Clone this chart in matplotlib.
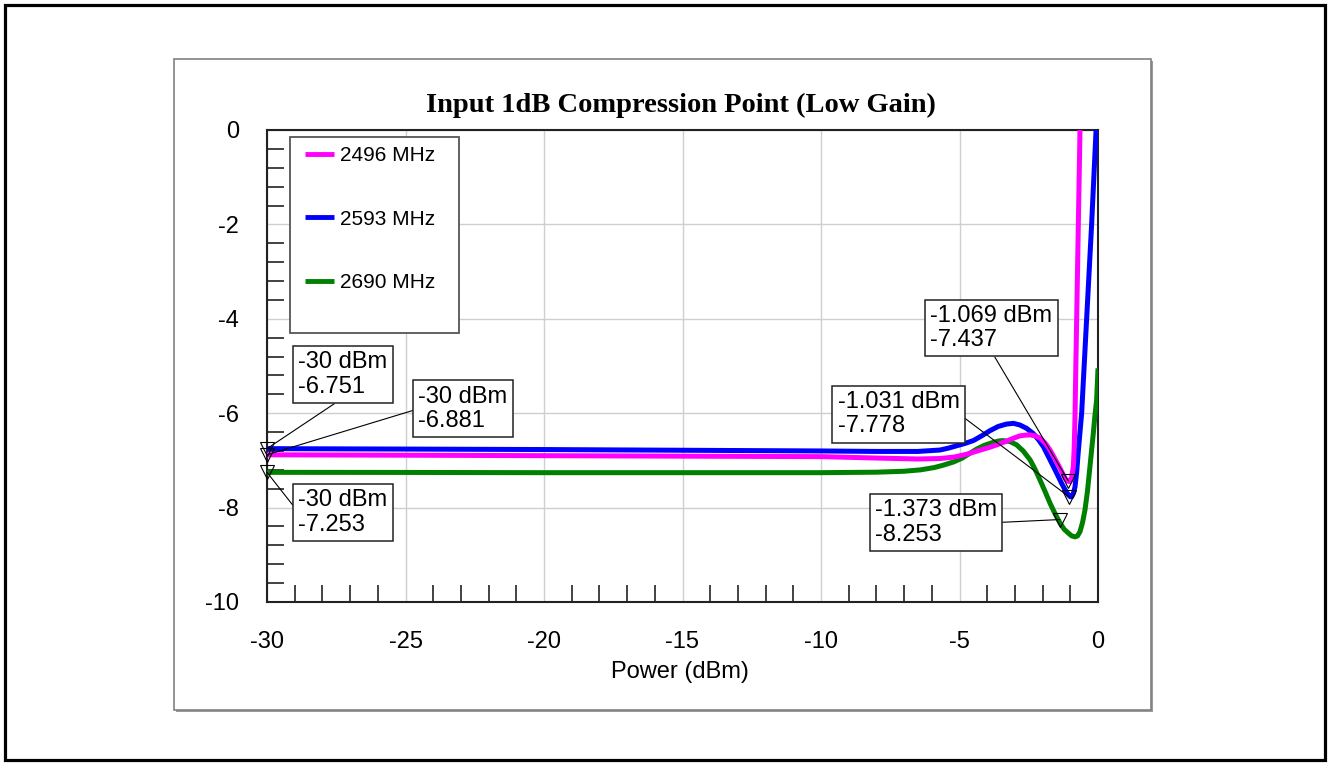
import matplotlib
matplotlib.use("Agg")
import matplotlib.pyplot as plt
from matplotlib.patches import Rectangle
from matplotlib.ticker import MultipleLocator

plt.rcParams["font.family"] = ["Liberation Sans", "DejaVu Sans"]

# ---- data -------------------------------------------------------------
labels = ["2496 MHz", "2593 MHz", "2690 MHz"]
colors = ["#FF00FF", "#0000FF", "#008000"]

x_2496 = [-30, -25, -20, -15, -10, -8, -6.5, -5.7, -5.2, -4.74, -4.3, -3.9,
          -3.6, -3.3, -3.05, -2.82, -2.62, -2.45, -2.27, -2.09, -1.9, -1.73,
          -1.58, -1.43, -1.3, -1.19, -1.1, -1.01, -0.95, -0.89, -0.86, -0.83,
          -0.8, -0.77, -0.71, -0.65, -0.62]
y_2496 = [-6.881, -6.89, -6.90, -6.91, -6.92, -6.95, -6.97, -6.96, -6.93,
          -6.87, -6.79, -6.72, -6.66, -6.59, -6.53, -6.48, -6.465, -6.46,
          -6.48, -6.53, -6.64, -6.78, -6.94, -7.10, -7.25, -7.38, -7.44, -7.45,
          -7.36, -7.13, -6.75, -6.07, -5.0, -4.0, -2.0, 0.0, 0.5]

x_2593 = [-30, -25, -20, -15, -10, -8, -6.5, -5.7, -5.4, -5.1, -4.8, -4.5,
          -4.2, -3.9, -3.6, -3.3, -3.05, -2.82, -2.58, -2.34, -2.15, -1.97,
          -1.79, -1.61, -1.45, -1.31, -1.18, -1.07, -1.0, -0.95, -0.89, -0.83,
          -0.77, -0.71, -0.65, -0.59, -0.5, -0.41, -0.23, -0.07, 0.0]
y_2593 = [-6.751, -6.76, -6.77, -6.785, -6.80, -6.81, -6.81, -6.78, -6.74,
          -6.69, -6.64, -6.58, -6.48, -6.37, -6.28, -6.23, -6.215, -6.25,
          -6.32, -6.43, -6.56, -6.71, -6.92, -7.13, -7.32, -7.49, -7.63, -7.73,
          -7.77, -7.77, -7.70, -7.56, -7.25, -6.80, -6.40, -6.00, -5.0, -4.0,
          -2.0, 0.0, 0.3]

x_2690 = [-30, -25, -20, -15, -10, -8, -7, -6.4, -5.9, -5.58, -5.2, -4.9,
          -4.6, -4.38, -4.1, -3.85, -3.6, -3.42, -3.18, -2.94, -2.7, -2.45,
          -2.27, -2.09, -1.91, -1.73, -1.55, -1.37, -1.22, -1.07, -0.95, -0.83,
          -0.74, -0.65, -0.56, -0.47, -0.38, -0.29, -0.23, -0.17, -0.11, -0.05,
          0.0]
y_2690 = [-7.253, -7.255, -7.26, -7.26, -7.26, -7.25, -7.23, -7.20, -7.15,
          -7.10, -7.03, -6.95, -6.84, -6.76, -6.68, -6.63, -6.59, -6.58, -6.60,
          -6.67, -6.80, -6.99, -7.19, -7.42, -7.66, -7.91, -8.13, -8.33, -8.46,
          -8.54, -8.60, -8.62, -8.60, -8.51, -8.32, -8.05, -7.65, -7.13, -6.78,
          -6.43, -6.05, -5.72, -5.05]

# marker readouts: (power dBm, value)
marker_x = [-30, -30, -30, -1.069, -1.031, -1.373]
marker_y = [-6.751, -6.881, -7.253, -7.437, -7.778, -8.253]

x_ticks = [-30, -25, -20, -15, -10, -5, 0]
y_ticks = [0, -2, -4, -6, -8, -10]

# label box offsets from each marker (pixels) and where the leader leaves the box
label_offsets = [(76, 74), (196, 46), (76, -40), (-77, 153), (-171, 83), (-124, -3)]
leader_relpos = [(0.5, 0.0), (0.0, 0.5), (0.0, 0.5), (0.5, 0.0), (1.0, 0.5), (1.0, 0.5)]

# ---- figure -----------------------------------------------------------
fig = plt.figure(figsize=(13.30, 7.64), dpi=100)

# outer frame
fig.patches.append(Rectangle((5 / 1330, 4 / 764), 1320 / 1330, 755 / 764,
                             transform=fig.transFigure, fill=False,
                             edgecolor="black", linewidth=2.3, zorder=-3))
# chart panel with a soft drop edge
fig.patches.append(Rectangle((176 / 1330, 52 / 764), 977 / 1330, 651 / 764,
                             transform=fig.transFigure, facecolor="#9a9a9a",
                             edgecolor="none", zorder=-2))
fig.patches.append(Rectangle((174 / 1330, 54 / 764), 977 / 1330, 651 / 764,
                             transform=fig.transFigure, facecolor="white",
                             edgecolor="#808080", linewidth=1.2, zorder=-1))

ax = fig.add_axes([267 / 1330, 1 - 602 / 764, 831 / 1330, 472 / 764])
ax.set_zorder(2)
ax.set_xlim(-30, 0)
ax.set_ylim(-10, 0)

ax.set_xticks(x_ticks)
ax.set_xticklabels([f"{v:g}" for v in x_ticks])
ax.set_yticks(y_ticks)
ax.set_yticklabels([f"{v:g}" for v in y_ticks])
ax.xaxis.set_minor_locator(MultipleLocator(1))
ax.yaxis.set_minor_locator(MultipleLocator(0.4))
ax.tick_params(which="major", length=0, labelsize=17)
ax.tick_params(which="minor", direction="in", length=12, width=1.2, color="#222222")
ax.tick_params(axis="x", which="major", pad=21)
ax.tick_params(axis="y", which="major", pad=20)
ax.grid(True, which="major", color="#cfcfcf", linewidth=1.0)
ax.set_axisbelow(True)
for s in ax.spines.values():
    s.set_linewidth(1.5)
    s.set_color("#222222")

ax.set_xlabel("Power (dBm)", fontsize=17)
ax.xaxis.set_label_coords(0.497, -0.148)
ax.xaxis.label.set_va("center")

fig.text(681 / 1330, 1 - 105 / 764, "Input 1dB Compression Point (Low Gain)",
         family=["Liberation Serif", "DejaVu Serif"], fontweight="bold",
         fontsize=20.5, ha="center", va="center", zorder=3)

# curves
series = [(x_2690, y_2690, 2), (x_2593, y_2593, 1), (x_2496, y_2496, 0)]
lines = {}
for xs, ys, i in series:
    (ln,) = ax.plot(xs, ys, color=colors[i], linewidth=3.6, zorder=3,
                    solid_joinstyle="round", solid_capstyle="butt")
    lines[i] = ln

# legend box
ax.add_patch(Rectangle((23 / 831, 269 / 472), 169 / 831, 196 / 472,
                       transform=ax.transAxes, facecolor="white",
                       edgecolor="#555555", linewidth=1.3, zorder=4))
leg = ax.legend([lines[0], lines[1], lines[2]], labels, loc="upper left",
                bbox_to_anchor=(38 / 831, (602 - 146) / 472), frameon=False,
                fontsize=15, handlelength=1.4, handletextpad=0.3,
                labelspacing=2.14, borderpad=0, borderaxespad=0)
leg.set_zorder(5)
for h in leg.get_lines():
    h.set_linewidth(3.5)

# markers and readout boxes
ax.plot(marker_x, marker_y, linestyle="none", marker="v", markersize=10,
        markerfacecolor="none", markeredgecolor="black", markeredgewidth=0.8,
        zorder=6, clip_on=False)
for mx, my, off, rp in zip(marker_x, marker_y, label_offsets, leader_relpos):
    txt = f"{mx:g} dBm\n{my:.3f}"
    ax.annotate(txt, xy=(mx, my), xytext=off, textcoords="offset pixels",
                ha="center", va="center", multialignment="left", fontsize=17,
                linespacing=1.15,
                bbox=dict(boxstyle="square,pad=0.22", facecolor="white",
                          edgecolor="#222222", linewidth=1.1),
                arrowprops=dict(arrowstyle="-", color="black", linewidth=0.8,
                                relpos=rp, shrinkA=0, shrinkB=0),
                zorder=7, annotation_clip=False)

fig.savefig("out.png", dpi=100)
